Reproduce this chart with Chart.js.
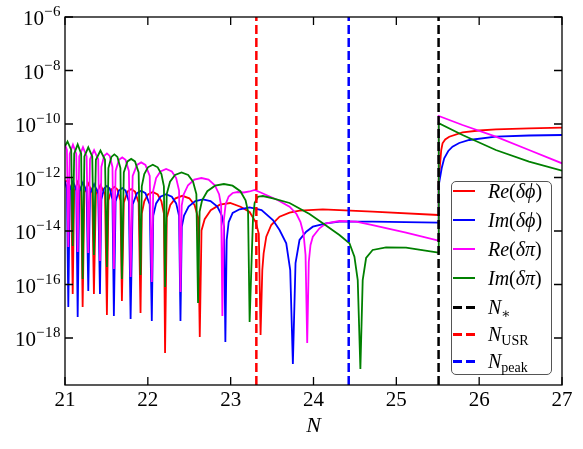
<!DOCTYPE html>
<html>
<head>
<meta charset="utf-8">
<script src="https://cdn.jsdelivr.net/npm/chart.js@4.4.0/dist/chart.umd.min.js"></script>
<style>
  html, body { margin: 0; padding: 0; background: #fff; }
  #wrap { position: relative; width: 583px; height: 449px; font-family: "Liberation Serif", "DejaVu Serif", serif; color: #000; }
  #chart { position: absolute; left: 0; top: 0; }
  .lbl { position: absolute; font-size: 21px; line-height: 21px; white-space: nowrap; }
  .sup { font-size: 15px; position: relative; top: -9px; letter-spacing: 0.5px; }
  #legend { position: absolute; left: 451px; top: 181px; width: 101px; height: 194px; box-sizing: border-box;
            border: 1.3px solid #555; border-radius: 5px; background: #fff; }
  .row { position: absolute; left: 0; width: 100px; height: 1px; }
  .handle { position: absolute; left: 1px; width: 22px; height: 2px; top: -1px; }
  .dash { height: 3px; top: -1.5px; }
  .txt { position: absolute; left: 36px; font-size: 20px; line-height: 20px; white-space: nowrap; top: -10px; }
  .sub { font-size: 14px; position: relative; top: 4px; font-style: normal; }
</style>
</head>
<body>
<div id="wrap">
  <canvas id="chart" width="583" height="449"></canvas>
  <div id="legend"></div>
</div>
<script>
// Ejes
const xTicks = [21, 22, 23, 24, 25, 26, 27];
const yTickExps = [-6, -8, -10, -12, -14, -16, -18];
const yRangeExp = [-19.757, -6];

// Curvas: N (e-folds) y log10 de la amplitud
const reDphiN = [21.000, 21.035, 21.075, 21.093, 21.111, 21.153, 21.195, 21.213, 21.234, 21.281, 21.329, 21.349,
  21.373, 21.428, 21.483, 21.506, 21.524, 21.560, 21.596, 21.633, 21.669, 21.687, 21.710, 21.754, 21.799, 21.845,
  21.889, 21.912, 21.927, 21.957, 22.001, 22.060, 22.119, 22.164, 22.194, 22.208, 22.229, 22.271, 22.334, 22.417,
  22.501, 22.564, 22.606, 22.627, 22.648, 22.686, 22.759, 22.869, 22.994, 23.119, 23.229, 23.302, 23.340, 23.361,
  23.382, 23.398, 23.430, 23.490, 23.590, 23.711, 23.831, 24.112, 24.714, 25.508, 25.512, 25.542, 25.558, 25.590,
  25.639, 25.799, 26.000, 26.201, 26.602, 27.000];
const reDphiLog = [-12.150, -12.127, -12.467, -16.355, -12.516, -12.172, -12.516, -16.841, -12.568, -12.224, -12.568, -16.355,
  -12.628, -12.284, -12.628, -17.140, -12.860, -12.445, -12.351, -12.445, -12.860, -16.617, -12.942, -12.527, -12.434, -12.527,
  -12.942, -17.065, -13.350, -12.886, -12.636, -12.542, -12.636, -12.886, -13.350, -18.561, -13.492, -13.028, -12.778, -12.684,
  -12.778, -13.028, -13.492, -17.963, -13.981, -13.559, -13.222, -13.017, -12.953, -13.092, -13.290, -13.664, -14.112, -17.888,
  -15.458, -14.834, -14.213, -13.776, -13.465, -13.316, -13.241, -13.189, -13.279, -13.402, -12.093, -10.972, -10.721, -10.579,
  -10.475, -10.310, -10.243, -10.198, -10.161, -10.138];

const imDphiN = [21.000, 21.023, 21.040, 21.057, 21.096, 21.136, 21.153, 21.172, 21.217, 21.261, 21.281, 21.302,
  21.351, 21.401, 21.422, 21.439, 21.472, 21.506, 21.540, 21.573, 21.590, 21.611, 21.651, 21.691, 21.731, 21.771,
  21.792, 21.817, 21.869, 21.920, 21.971, 22.023, 22.048, 22.065, 22.100, 22.152, 22.221, 22.290, 22.342, 22.377,
  22.394, 22.410, 22.437, 22.492, 22.573, 22.665, 22.757, 22.839, 22.893, 22.920, 22.936, 22.952, 22.976, 23.024,
  23.108, 23.229, 23.373, 23.510, 23.590, 23.671, 23.719, 23.751, 23.783, 23.831, 23.912, 23.992, 24.153, 24.313,
  24.714, 25.508, 25.512, 25.548, 25.578, 25.627, 25.678, 25.759, 25.880, 26.201, 26.602, 27.000];
const imDphiLog = [-12.131, -12.411, -16.841, -12.479, -12.135, -12.479, -17.215, -12.531, -12.187, -12.531, -16.243, -12.591,
  -12.247, -12.591, -16.355, -12.822, -12.407, -12.314, -12.407, -12.822, -17.178, -12.901, -12.486, -12.393, -12.486, -12.901,
  -17.290, -13.002, -12.587, -12.493, -12.587, -13.002, -17.364, -13.432, -12.968, -12.718, -12.624, -12.718, -12.968, -13.432,
  -17.364, -13.843, -13.421, -13.084, -12.879, -12.815, -12.879, -13.084, -13.421, -13.843, -18.150, -14.336, -13.664, -13.327,
  -13.189, -13.114, -13.215, -13.589, -13.963, -14.460, -15.458, -18.972, -15.196, -14.336, -14.026, -13.839, -13.712, -13.652,
  -13.652, -13.690, -12.280, -11.645, -11.282, -11.009, -10.849, -10.710, -10.598, -10.475, -10.430, -10.411];

const reDpiN = [21.000, 21.023, 21.040, 21.057, 21.096, 21.136, 21.153, 21.172, 21.217, 21.261, 21.281, 21.302,
  21.351, 21.401, 21.422, 21.439, 21.472, 21.506, 21.540, 21.573, 21.590, 21.611, 21.651, 21.691, 21.731, 21.771,
  21.792, 21.817, 21.869, 21.920, 21.971, 22.023, 22.048, 22.065, 22.100, 22.152, 22.221, 22.290, 22.342, 22.377,
  22.394, 22.409, 22.434, 22.485, 22.561, 22.647, 22.733, 22.809, 22.860, 22.885, 22.900, 22.918, 22.940, 22.976,
  23.024, 23.084, 23.157, 23.229, 23.289, 23.349, 23.430, 23.566, 23.711, 23.795, 23.843, 23.880, 23.904, 23.924,
  23.943, 23.964, 23.992, 24.072, 24.153, 24.313, 24.514, 24.714, 25.117, 25.508, 25.512, 25.799, 26.201, 26.602,
  27.000];
const reDpiLog = [-10.766, -10.972, -14.598, -11.114, -10.770, -11.114, -14.785, -11.211, -10.867, -11.211, -14.822, -11.320,
  -10.976, -11.320, -15.121, -11.607, -11.193, -11.099, -11.193, -11.607, -15.421, -11.757, -11.342, -11.249, -11.342, -11.757,
  -15.720, -11.944, -11.529, -11.436, -11.529, -11.944, -15.907, -12.486, -12.022, -11.772, -11.679, -11.772, -12.022, -12.486,
  -16.280, -13.047, -12.624, -12.288, -12.082, -12.019, -12.082, -12.288, -12.624, -13.047, -17.178, -13.589, -12.991, -12.710,
  -12.579, -12.542, -12.561, -12.523, -12.467, -12.542, -12.654, -12.841, -13.092, -13.364, -13.664, -14.112, -14.897, -18.187,
  -15.159, -14.523, -14.213, -13.899, -13.712, -13.626, -13.652, -13.776, -14.064, -14.363, -9.701, -10.037, -10.475, -10.972,
  -11.469];

const imDpiN = [21.000, 21.030, 21.075, 21.093, 21.111, 21.153, 21.195, 21.213, 21.234, 21.281, 21.329, 21.349,
  21.373, 21.428, 21.483, 21.506, 21.524, 21.560, 21.596, 21.633, 21.669, 21.687, 21.710, 21.754, 21.799, 21.845,
  21.889, 21.912, 21.927, 21.957, 22.001, 22.060, 22.119, 22.164, 22.194, 22.208, 22.228, 22.268, 22.328, 22.407,
  22.487, 22.546, 22.586, 22.606, 22.625, 22.655, 22.718, 22.812, 22.918, 23.023, 23.117, 23.180, 23.210, 23.229,
  23.249, 23.269, 23.289, 23.329, 23.389, 23.510, 23.711, 23.952, 24.108, 24.313, 24.434, 24.494, 24.534, 24.566,
  24.594, 24.635, 24.714, 24.876, 25.117, 25.508, 25.512, 25.799, 26.201, 26.602, 27.000];
const imDpiLog = [-10.822, -10.654, -10.972, -14.561, -11.107, -10.763, -11.107, -15.794, -11.215, -10.871, -11.215, -14.897,
  -11.338, -10.994, -11.338, -15.346, -11.645, -11.230, -11.136, -11.230, -11.645, -15.794, -11.813, -11.398, -11.305, -11.398,
  -11.813, -15.645, -12.333, -11.869, -11.619, -11.525, -11.619, -11.869, -12.333, -16.093, -12.621, -12.157, -11.907, -11.813,
  -11.907, -12.157, -12.621, -16.692, -13.271, -12.849, -12.512, -12.307, -12.243, -12.307, -12.512, -12.849, -13.271, -17.402,
  -15.458, -13.589, -12.953, -12.718, -12.692, -12.778, -12.953, -13.364, -13.701, -14.150, -14.460, -14.961, -15.832, -19.159,
  -15.832, -15.009, -14.710, -14.609, -14.624, -14.811, -9.974, -10.411, -10.972, -11.409, -11.746];

// Líneas verticales: N_*, N_USR, N_peak
const markerN = [25.51, 23.31, 24.425];
const markerColors = ["#000000", "#ff0000", "#0000ff"];

const curves = [
  { n: reDphiN, v: reDphiLog, color: "#ff0000", label: "Re(δϕ)" },
  { n: imDphiN, v: imDphiLog, color: "#0000ff", label: "Im(δϕ)" },
  { n: reDpiN, v: reDpiLog, color: "#ff00ff", label: "Re(δπ)" },
  { n: imDpiN, v: imDpiLog, color: "#008000", label: "Im(δπ)" },
];

const yMin = Math.pow(10, yRangeExp[0]);
const yMax = Math.pow(10, yRangeExp[1]);

const datasets = [];
curves.forEach((c) => {
  datasets.push({
    label: c.label,
    data: c.n.map((n, i) => ({ x: n, y: Math.pow(10, c.v[i]) })),
    borderColor: c.color,
    borderWidth: 1.8,
    pointRadius: 0,
    fill: false,
    tension: 0,
  });
});
markerN.forEach((n, i) => {
  datasets.push({
    label: "marker" + i,
    data: [{ x: n, y: yMin }, { x: n, y: yMax }],
    borderColor: markerColors[i],
    borderWidth: 2.5,
    borderDash: [9, 4],
    pointRadius: 0,
    fill: false,
  });
});
// orden de dibujo como en matplotlib: el último queda encima
datasets.forEach((d, i) => (d.order = 20 - i));

// Marco y ticks hacia dentro
const framePlugin = {
  id: "frame",
  afterDraw(chart) {
    const { ctx, chartArea: a, scales } = chart;
    ctx.save();
    ctx.strokeStyle = "#000";
    ctx.lineWidth = 1.3;
    ctx.strokeRect(a.left, a.top, a.right - a.left, a.bottom - a.top);
    ctx.beginPath();
    xTicks.forEach((t) => {
      const px = scales.x.getPixelForValue(t);
      ctx.moveTo(px, a.bottom); ctx.lineTo(px, a.bottom - 8);
      ctx.moveTo(px, a.top); ctx.lineTo(px, a.top + 8);
    });
    yTickExps.forEach((e) => {
      const py = scales.y.getPixelForValue(Math.pow(10, e));
      ctx.moveTo(a.left, py); ctx.lineTo(a.left + 8, py);
      ctx.moveTo(a.right, py); ctx.lineTo(a.right - 8, py);
    });
    ctx.stroke();
    ctx.restore();
  },
};

const chart = new Chart(document.getElementById("chart"), {
  type: "line",
  data: { datasets },
  options: {
    responsive: false,
    animation: false,
    events: [],
    layout: { padding: { left: 65, top: 17, right: 21, bottom: 64 } },
    scales: {
      x: { type: "linear", min: xTicks[0], max: xTicks[xTicks.length - 1], display: false },
      y: { type: "logarithmic", min: yMin, max: yMax, display: false },
    },
    plugins: { legend: { display: false }, tooltip: { enabled: false } },
  },
  plugins: [framePlugin],
});

// Etiquetas de los ejes como texto HTML
const wrap = document.getElementById("wrap");
function addLabel(html, style) {
  const d = document.createElement("div");
  d.className = "lbl";
  d.innerHTML = html;
  Object.assign(d.style, style);
  wrap.appendChild(d);
}
xTicks.forEach((t) => {
  const px = chart.scales.x.getPixelForValue(t);
  addLabel(String(t), { left: px - 20 + "px", width: "40px", textAlign: "center", top: "388.5px" });
});
yTickExps.forEach((e) => {
  const py = chart.scales.y.getPixelForValue(Math.pow(10, e));
  addLabel('10<span class="sup">−' + Math.abs(e) + "</span>",
    { left: "0px", width: "61px", textAlign: "right", top: py - 8.6 + "px" });
});
const a = chart.chartArea;
addLabel("<i>N</i>", { left: (a.left + a.right) / 2 - 20 + "px", width: "40px", textAlign: "center",
  top: "413.5px", fontSize: "22px", lineHeight: "22px" });

// Leyenda
const legendRows = [
  { y: 191.5, color: "#ff0000", dashed: false, html: "<i>Re</i>(<i>δϕ</i>)" },
  { y: 220.5, color: "#0000ff", dashed: false, html: "<i>Im</i>(<i>δϕ</i>)" },
  { y: 249.5, color: "#ff00ff", dashed: false, html: "<i>Re</i>(<i>δπ</i>)" },
  { y: 278.5, color: "#008000", dashed: false, html: "<i>Im</i>(<i>δπ</i>)" },
  { y: 307.5, color: "#000000", dashed: true, html: '<i>N</i><span class="sub">∗</span>' },
  { y: 334.5, color: "#ff0000", dashed: true, html: '<i>N</i><span class="sub">USR</span>' },
  { y: 361.5, color: "#0000ff", dashed: true, html: '<i>N</i><span class="sub">peak</span>' },
];
const legend = document.getElementById("legend");
legendRows.forEach((r) => {
  const row = document.createElement("div");
  row.className = "row";
  row.style.top = r.y - 181 - 1.3 + "px";
  const h = document.createElement("div");
  h.className = r.dashed ? "handle dash" : "handle";
  h.style.background = r.dashed
    ? `repeating-linear-gradient(90deg, ${r.color} 0 9px, transparent 9px 13px)`
    : r.color;
  const t = document.createElement("div");
  t.className = "txt";
  t.innerHTML = r.html;
  row.appendChild(h);
  row.appendChild(t);
  legend.appendChild(row);
});
</script>
</body>
</html>
